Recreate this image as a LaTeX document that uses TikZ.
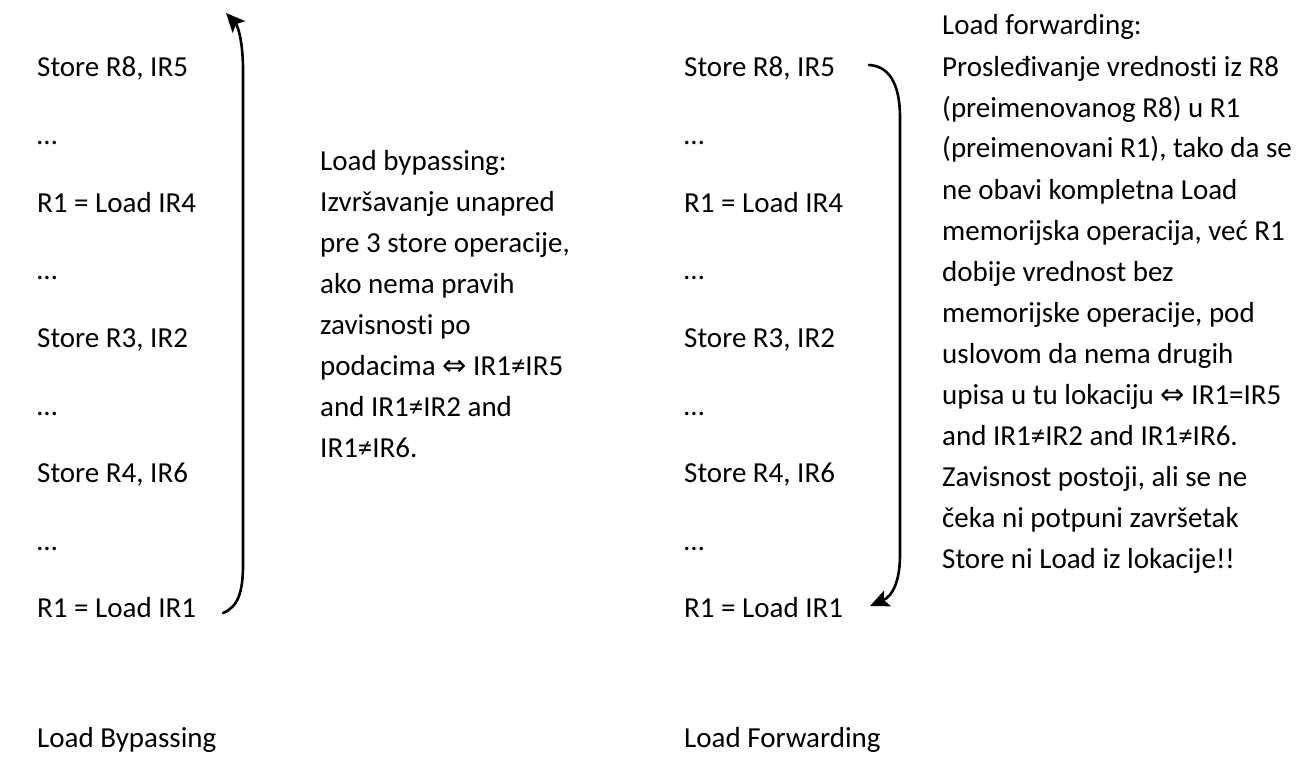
\documentclass[tikz,border=0pt]{standalone}
\usepackage{fontspec}
\setmainfont{Carlito}[Ligatures=NoCommon]
\newfontfamily\symfont{DejaVu Sans}
\usetikzlibrary{arrows.meta}
\newcommand{\eqvarrow}{{\symfont\char"21D4}}
\newcommand{\natspace}{\spaceskip=0pt\xspaceskip=0pt\relax}
\begin{document}
\begin{tikzpicture}[x=1pt,y=-1pt,
  txt/.style={anchor=base west,inner sep=0pt,font=\fontsize{29}{41}\selectfont},
  para/.style={txt,text width=420pt,align=left},
  curveline/.style={line width=2.6pt,line cap=round},
  headtip/.style={-{Stealth[length=19pt,width=17pt,inset=4pt]}}]
\useasboundingbox (0,0) rectangle (1313,760);
% instruction sequences
\foreach \t [count=\i from 0] in {{Store R8, IR5},\dots,{R1 = Load IR4},\dots,{Store R3, IR2},\dots,{Store R4, IR6},\dots,{R1 = Load IR1}}{
  \node[txt] (l\i) at (37,77+67.6*\i) {\t};
  \node[txt] (r\i) at (684,77+67.6*\i) {\t};
}
\node[txt] (capl) at (37,747) {Load Bypassing};
\node[txt] (capr) at (684,747) {Load Forwarding};
% explanations
\node[para] (bypass) at (320,170) {\natspace Load bypassing:\\
Izvršavanje unapred\\
pre 3 store operacije,\\
ako nema pravih\\
zavisnosti po\\
podacima \eqvarrow{} IR1≠IR5\\
and IR1≠IR2 and\\
IR1≠IR6.};
\node[para] (forward) at (942,35) {\natspace Load forwarding:\\
Prosleđivanje vrednosti iz R8\\
(preimenovanog R8) u R1\\
(preimenovani R1), tako da se\\
ne obavi kompletna Load\\
memorijska operacija, već R1\\
dobije vrednost bez\\
memorijske operacije, pod\\
uslovom da nema drugih\\
upisa u tu lokaciju \eqvarrow{} IR1=IR5\\
and IR1≠IR2 and IR1≠IR6.\\
Zavisnost postoji, ali se ne\\
čeka ni potpuni završetak\\
Store ni Load iz lokacije!!};
% curved arrows
\coordinate (ba) at (223,613);
\coordinate (bb) at (226,13);
\draw[curveline,headtip] (ba) .. controls (238,607) and (243,592) .. (243,565)
  -- (243,70) .. controls (243,42) and (238,26) .. (bb);
\coordinate (fa) at (869,65);
\coordinate (fb) at (870,606);
\draw[curveline,headtip] (fa) .. controls (888,66) and (900,82) .. (900,118)
  -- (900,555) .. controls (900,580) and (893,596) .. (fb);
\end{tikzpicture}
\end{document}
